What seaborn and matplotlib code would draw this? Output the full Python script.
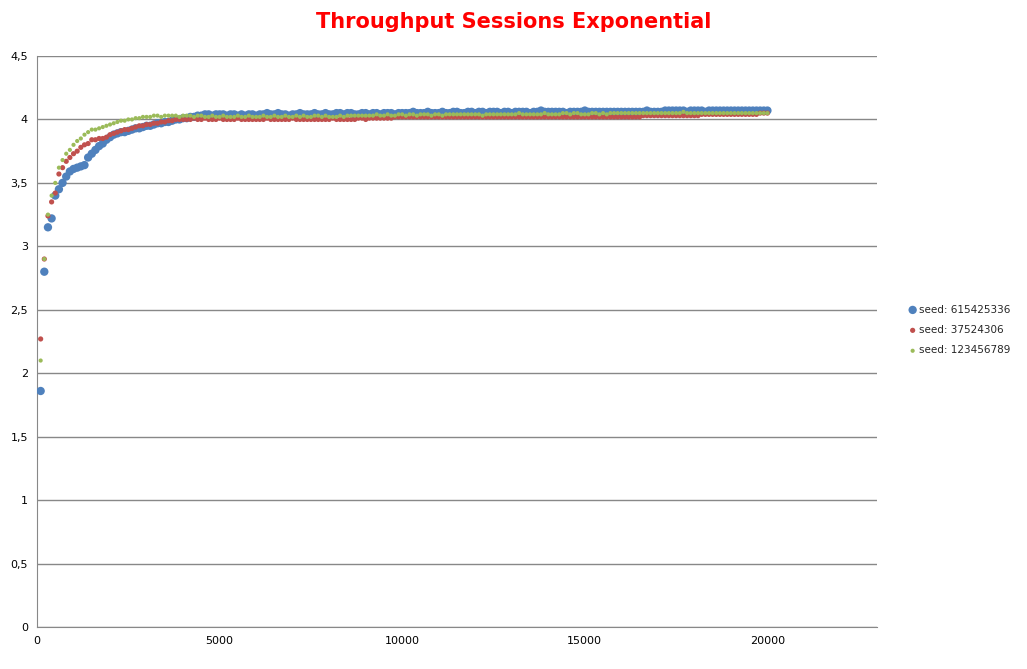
import numpy as np
import pandas as pd
import matplotlib
matplotlib.use('Agg')
import matplotlib.pyplot as plt
import seaborn as sns
from matplotlib.ticker import FuncFormatter

# ----- DATA (one sample every 100) -----
x_values = list(range(100, 20001, 100))

blue_seed = [
    1.86, 2.80, 3.15, 3.22, 3.40, 3.45, 3.50, 3.55, 3.59, 3.61, 3.62, 3.63, 3.64, 3.70, 3.73, 3.76, 3.79, 3.81, 3.84, 3.86,
    3.88, 3.89, 3.90, 3.90, 3.91, 3.92, 3.93, 3.93, 3.94, 3.95, 3.95, 3.96, 3.97, 3.97, 3.98, 3.98, 3.99, 4.00, 4.00, 4.01,
    4.01, 4.02, 4.02, 4.03, 4.03, 4.04, 4.04, 4.03, 4.04, 4.04, 4.04, 4.03, 4.04, 4.04, 4.03, 4.04, 4.03, 4.04, 4.04, 4.03,
    4.04, 4.04, 4.05, 4.04, 4.04, 4.05, 4.04, 4.04, 4.03, 4.04, 4.04, 4.05, 4.04, 4.04, 4.04, 4.05, 4.04, 4.04, 4.05, 4.04,
    4.04, 4.05, 4.05, 4.04, 4.05, 4.05, 4.04, 4.04, 4.05, 4.05, 4.04, 4.05, 4.05, 4.04, 4.05, 4.05, 4.05, 4.04, 4.05, 4.05,
    4.05, 4.05, 4.06, 4.05, 4.05, 4.05, 4.06, 4.05, 4.05, 4.05, 4.06, 4.05, 4.05, 4.06, 4.06, 4.05, 4.05, 4.06, 4.06, 4.05,
    4.06, 4.06, 4.05, 4.06, 4.06, 4.06, 4.05, 4.06, 4.06, 4.05, 4.06, 4.06, 4.06, 4.06, 4.05, 4.06, 4.06, 4.07, 4.06, 4.06,
    4.06, 4.06, 4.06, 4.06, 4.05, 4.06, 4.06, 4.06, 4.06, 4.07, 4.06, 4.06, 4.06, 4.06, 4.06, 4.06, 4.06, 4.06, 4.06, 4.06,
    4.06, 4.06, 4.06, 4.06, 4.06, 4.06, 4.07, 4.06, 4.06, 4.06, 4.06, 4.07, 4.07, 4.07, 4.07, 4.07, 4.07, 4.06, 4.07, 4.07,
    4.07, 4.07, 4.06, 4.07, 4.07, 4.07, 4.07, 4.07, 4.07, 4.07, 4.07, 4.07, 4.07, 4.07, 4.07, 4.07, 4.07, 4.07, 4.07, 4.07,
]

red_seed = [
    2.27, 2.90, 3.24, 3.35, 3.42, 3.57, 3.62, 3.67, 3.70, 3.73, 3.75, 3.78, 3.80, 3.81, 3.84, 3.84, 3.85, 3.85, 3.86, 3.88,
    3.89, 3.90, 3.91, 3.92, 3.92, 3.93, 3.94, 3.95, 3.95, 3.96, 3.96, 3.97, 3.97, 3.98, 3.98, 3.99, 3.99, 4.00, 4.00, 4.00,
    4.00, 4.00, 4.01, 4.00, 4.00, 4.01, 4.00, 4.00, 4.00, 4.01, 4.00, 4.00, 4.00, 4.00, 4.01, 4.00, 4.00, 4.00, 4.00, 4.00,
    4.00, 4.00, 4.01, 4.00, 4.00, 4.00, 4.00, 4.00, 4.00, 4.01, 4.00, 4.00, 4.00, 4.00, 4.00, 4.00, 4.00, 4.00, 4.00, 4.00,
    4.01, 4.00, 4.00, 4.00, 4.00, 4.00, 4.00, 4.01, 4.01, 4.00, 4.01, 4.01, 4.01, 4.01, 4.01, 4.01, 4.01, 4.02, 4.02, 4.02,
    4.02, 4.02, 4.02, 4.02, 4.02, 4.02, 4.02, 4.02, 4.02, 4.02, 4.02, 4.02, 4.02, 4.02, 4.02, 4.02, 4.02, 4.02, 4.02, 4.02,
    4.02, 4.02, 4.02, 4.02, 4.02, 4.02, 4.02, 4.02, 4.02, 4.02, 4.02, 4.02, 4.02, 4.02, 4.02, 4.02, 4.02, 4.02, 4.02, 4.02,
    4.02, 4.02, 4.02, 4.02, 4.02, 4.02, 4.02, 4.02, 4.02, 4.02, 4.02, 4.02, 4.02, 4.02, 4.02, 4.02, 4.02, 4.02, 4.02, 4.02,
    4.02, 4.02, 4.02, 4.02, 4.02, 4.03, 4.03, 4.03, 4.03, 4.03, 4.03, 4.03, 4.03, 4.03, 4.03, 4.03, 4.03, 4.03, 4.03, 4.03,
    4.03, 4.04, 4.04, 4.04, 4.04, 4.04, 4.04, 4.04, 4.04, 4.04, 4.04, 4.04, 4.04, 4.04, 4.04, 4.04, 4.04, 4.05, 4.05, 4.05,
]

green_seed = [
    2.10, 2.90, 3.25, 3.40, 3.50, 3.62, 3.68, 3.73, 3.76, 3.80, 3.83, 3.85, 3.88, 3.90, 3.92, 3.92, 3.93, 3.94, 3.95, 3.96,
    3.97, 3.98, 3.99, 3.99, 4.00, 4.00, 4.01, 4.01, 4.02, 4.02, 4.02, 4.03, 4.03, 4.02, 4.03, 4.03, 4.03, 4.03, 4.02, 4.03,
    4.03, 4.03, 4.02, 4.03, 4.03, 4.02, 4.02, 4.03, 4.02, 4.02, 4.03, 4.02, 4.02, 4.02, 4.03, 4.02, 4.02, 4.03, 4.02, 4.02,
    4.02, 4.03, 4.02, 4.02, 4.03, 4.02, 4.02, 4.03, 4.02, 4.02, 4.03, 4.02, 4.03, 4.02, 4.02, 4.03, 4.03, 4.02, 4.03, 4.02,
    4.02, 4.02, 4.03, 4.02, 4.03, 4.03, 4.03, 4.03, 4.03, 4.03, 4.03, 4.03, 4.04, 4.03, 4.03, 4.04, 4.03, 4.03, 4.04, 4.04,
    4.03, 4.04, 4.04, 4.03, 4.04, 4.04, 4.04, 4.03, 4.04, 4.04, 4.03, 4.04, 4.04, 4.04, 4.04, 4.04, 4.04, 4.04, 4.04, 4.04,
    4.04, 4.03, 4.04, 4.04, 4.04, 4.04, 4.04, 4.04, 4.04, 4.04, 4.04, 4.05, 4.04, 4.04, 4.04, 4.04, 4.04, 4.04, 4.05, 4.04,
    4.04, 4.04, 4.04, 4.05, 4.05, 4.04, 4.05, 4.05, 4.04, 4.04, 4.04, 4.05, 4.05, 4.04, 4.05, 4.04, 4.05, 4.05, 4.05, 4.05,
    4.05, 4.05, 4.05, 4.05, 4.05, 4.05, 4.05, 4.05, 4.05, 4.05, 4.05, 4.05, 4.05, 4.05, 4.05, 4.05, 4.06, 4.05, 4.05, 4.05,
    4.05, 4.05, 4.05, 4.05, 4.05, 4.05, 4.05, 4.05, 4.05, 4.05, 4.05, 4.05, 4.05, 4.05, 4.05, 4.05, 4.05, 4.05, 4.05, 4.05,
]

series_names = ['seed: 615425336', 'seed: 37524306', 'seed: 123456789']
series_colors = ['#4F81BD', '#C0504D', '#9BBB59']
series_sizes = [36, 14, 9]

# ----- PLOT -----
sns.set_style('white')
plt.rcParams['font.family'] = ['DejaVu Sans']

fig = plt.figure(figsize=(10.27, 6.69), dpi=100)
ax = fig.add_axes([37 / 1027, 1 - 627 / 669, 840 / 1027, 571 / 669])

for name, vals, col, size in zip(series_names, [blue_seed, red_seed, green_seed], series_colors, series_sizes):
    df = pd.DataFrame({'x': x_values, 'y': vals})
    sns.scatterplot(data=df, x='x', y='y', color=col, s=size, edgecolor='none', label=name, ax=ax, zorder=3)

ax.set_xlim(0, 23000)
ax.set_ylim(0, 4.5)
ax.set_xticks([0, 5000, 10000, 15000, 20000])
ax.set_yticks(np.arange(0, 4.51, 0.5))
ax.yaxis.set_major_formatter(FuncFormatter(lambda v, p: f'{v:g}'.replace('.', ',')))
ax.grid(axis='y', color='#888888', linewidth=1)
ax.set_axisbelow(True)
ax.set_xlabel('')
ax.set_ylabel('')
ax.tick_params(labelsize=8, length=3, colors='black')
for side in ['top', 'right']:
    ax.spines[side].set_visible(False)
for side in ['left', 'bottom']:
    ax.spines[side].set_color('#888888')

ax.legend(loc='center left', bbox_to_anchor=(1.035, 0.52), frameon=False, fontsize=7.5,
          handletextpad=0.0, handlelength=1.2, borderaxespad=0, borderpad=0,
          labelspacing=1.0, markerscale=1.0)

fig.text(0.5, 1 - 22 / 669, 'Throughput Sessions Exponential', color='#FF0000',
         fontsize=15, fontweight='bold', ha='center', va='center')

fig.savefig('out.png', dpi=100)
